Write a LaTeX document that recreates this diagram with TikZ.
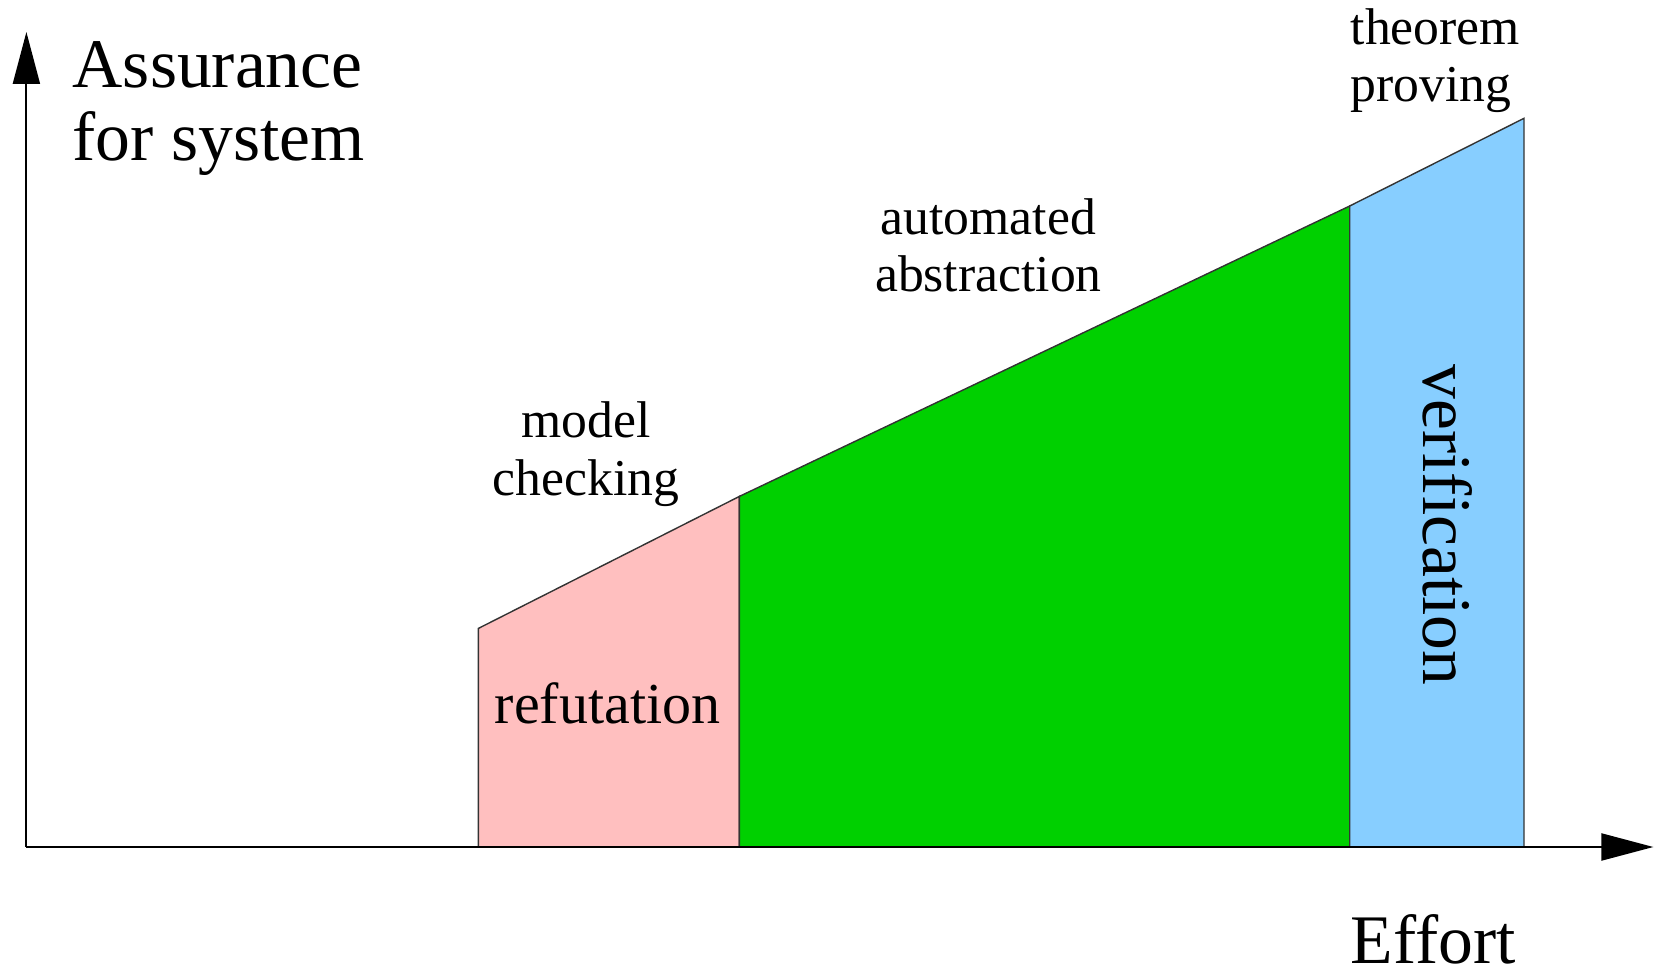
\documentclass[tikz,border=0pt]{standalone}
\usepackage{fontspec}
\setmainfont{Liberation Serif}
\usetikzlibrary{arrows.meta}
\definecolor{refpink}{RGB}{255,191,191}
\definecolor{absgreen}{RGB}{0,208,0}
\definecolor{verblue}{RGB}{135,206,255}
\tikzset{
  axis/.style={line width=0.6pt,-{Triangle[length=5.2mm,width=2.7mm]}},
  band/.style={draw=black!80,line width=0.4pt},
  big/.style={font=\fontsize{19.8}{20.5}\selectfont},
  small/.style={font=\fontsize{14.7}{16.3}\selectfont,align=center}
}
\begin{document}
\begin{tikzpicture}
\useasboundingbox (-0.264,-1.22) rectangle (16.296,8.47);
% bands under the curve
\draw[band,fill=refpink] (4.52,0) -- (4.52,2.186) -- (7.13,3.506) -- (7.13,0) -- cycle;
\draw[band,fill=absgreen] (7.13,0) -- (7.13,3.506) -- (13.233,6.41) -- (13.233,0) -- cycle;
\draw[band,fill=verblue] (13.233,0) -- (13.233,6.41) -- (14.976,7.287) -- (14.976,0) -- cycle;
% axes
\draw[axis] (0,0) -- (0,8.15);
\draw[axis] (0,0) -- (16.27,0);
% labels (base = last line)
\node[big,anchor=base west,align=left,inner sep=0] (ylabel) at (0.456,6.87) {Assurance\\for system};
\node[big,anchor=base west,inner sep=0] (xlabel) at (13.236,-1.16) {Effort};
\node[small,anchor=base,inner sep=0] (mc) at (5.596,3.52) {model\\checking};
\node[small,anchor=base,inner sep=0] (aa) at (9.62,5.55) {automated\\abstraction};
\node[small,anchor=base west,align=left,inner sep=0] (tp) at (13.236,7.45) {theorem\\proving};
\node[font=\fontsize{16.5}{18}\selectfont,anchor=base,inner sep=0] (refut) at (5.811,1.24) {refutation};
\node[big,rotate=-90,inner sep=0] (verif) at (14.21,3.22) {verification};
\end{tikzpicture}
\end{document}
